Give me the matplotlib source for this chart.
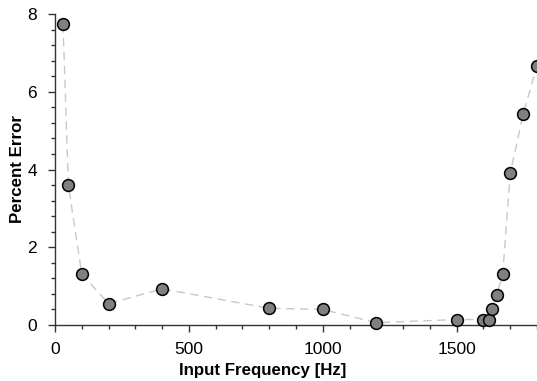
import matplotlib
matplotlib.use("Agg")
import matplotlib.pyplot as plt
from matplotlib.ticker import MultipleLocator

plt.rcParams['font.family'] = ['Liberation Sans', 'DejaVu Sans']

# data
freq = [30, 50, 100, 200, 400, 800, 1000, 1200, 1500, 1600, 1620, 1632, 1650, 1672, 1700, 1748, 1800]
err = [7.74, 3.6, 1.31, 0.55, 0.93, 0.43, 0.40, 0.06, 0.14, 0.14, 0.14, 0.41, 0.78, 1.31, 3.9, 5.42, 6.67]

fig = plt.figure(figsize=(5.37, 3.81), dpi=100)
ax = fig.add_axes([0.1024, 0.147, 0.8976, 0.816])

ax.plot(freq, err, linestyle=(0, (6, 4)), color='#c8c8c8', linewidth=1, zorder=1, clip_on=False)
ax.plot(freq, err, linestyle='none', marker='o', markersize=8.5,
        markerfacecolor='#808080', markeredgecolor='black', markeredgewidth=1.1,
        zorder=3, clip_on=False)

ax.set_xlim(0, 1800)
ax.set_ylim(0, 8)
ax.xaxis.set_major_locator(MultipleLocator(500))
ax.xaxis.set_minor_locator(MultipleLocator(100))
ax.yaxis.set_major_locator(MultipleLocator(2))
ax.yaxis.set_minor_locator(MultipleLocator(0.4))

for s in ['top', 'right']:
    ax.spines[s].set_visible(False)
for s in ['left', 'bottom']:
    ax.spines[s].set_color('#333333')
    ax.spines[s].set_linewidth(1)

ax.tick_params(which='major', length=5, width=1, color='#333333', labelsize=12.5)
ax.tick_params(axis='x', which='major', pad=7)
ax.tick_params(axis='y', which='major', pad=8)
ax.tick_params(which='minor', length=3, width=1, color='#333333')

# axis titles placed where the reference has them
fig.text(262.5 / 537, 1 - 375 / 381, 'Input Frequency [Hz]', fontsize=12.2,
         fontweight='bold', ha='center', va='baseline')
fig.text(18 / 537, 1 - 169 / 381, 'Percent Error', fontsize=12.2,
         fontweight='bold', rotation=90, ha='center', va='center')

fig.savefig('out.png', dpi=100)
